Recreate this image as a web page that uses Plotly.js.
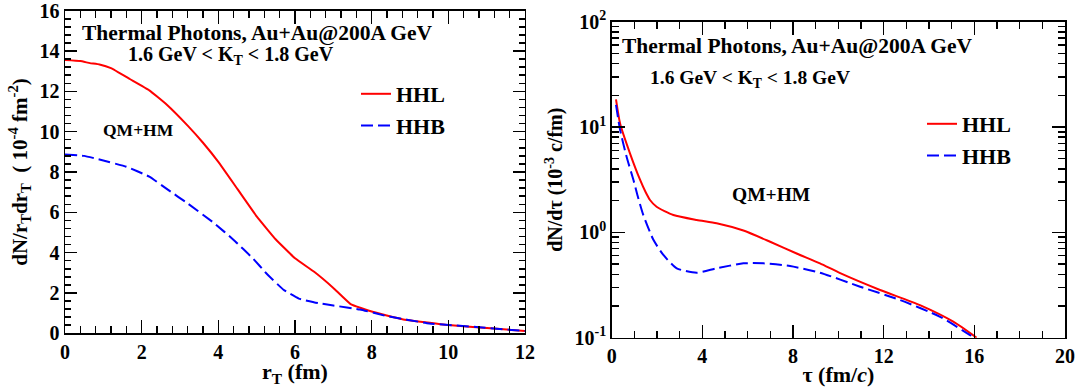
<!DOCTYPE html>
<html>
<head>
<meta charset="utf-8">
<script src="https://cdn.plot.ly/plotly-3.0.1.min.js"></script>
<style>html,body{margin:0;padding:0;background:#fff;}#plot{width:1075px;height:387px;}</style>
</head>
<body>
<div id="plot"></div>
<script>
// ---- Left panel: dN/(r_T dr_T) vs r_T ----
var rT_HHL = [0, 0.4, 0.65, 0.9, 1.2, 1.7, 2.2, 2.65, 3.2, 3.6, 4.0, 4.5, 5.0, 5.5, 6.0, 6.5, 7.0, 7.45, 8.0, 8.8, 10.0, 11.1, 12.0];
var dN_HHL = [13.55, 13.5, 13.4, 13.33, 13.15, 12.6, 12.05, 11.35, 10.3, 9.45, 8.5, 7.15, 5.8, 4.65, 3.72, 3.05, 2.25, 1.45, 1.08, 0.7, 0.41, 0.25, 0.11];
var rT_HHB = [0, 0.5, 0.9, 1.6, 2.2, 2.7, 3.2, 3.9, 4.4, 4.9, 5.25, 5.7, 6.1, 6.6, 7.0, 7.7, 8.4, 9.5, 10.8, 12.0];
var dN_HHB = [8.87, 8.8, 8.62, 8.26, 7.77, 7.1, 6.44, 5.45, 4.63, 3.72, 2.98, 2.16, 1.72, 1.5, 1.38, 1.18, 0.85, 0.49, 0.3, 0.11];

// ---- Right panel: dN/dtau vs tau ----
var tau_HHL = [0.19, 0.37, 0.81, 1.25, 1.5, 1.69, 1.98, 2.72, 3.75, 4.63, 5.81, 6.99, 8.16, 9.19, 10.08, 11.84, 13.6, 15.07, 16.1];
var dNdtau_HHL = [18.3, 10.8, 5.6, 3.16, 2.4, 2.03, 1.75, 1.46, 1.31, 1.22, 1.04, 0.815, 0.63, 0.508, 0.41, 0.284, 0.204, 0.142, 0.1];
var tau_HHB = [0.19, 0.37, 0.66, 0.96, 1.15, 1.4, 1.84, 2.28, 2.87, 3.75, 4.63, 5.81, 6.69, 7.87, 9.19, 10.96, 12.72, 14.49, 15.81, 16.0];
var dNdtau_HHB = [16.2, 9.4, 5.2, 3.14, 2.2, 1.45, 0.85, 0.61, 0.456, 0.414, 0.456, 0.508, 0.508, 0.479, 0.414, 0.305, 0.228, 0.158, 0.106, 0.1];

// tick labels
var logTickVals = [0.1, 1, 10, 100];
var logTickText = ['10<sup>-1</sup>', '10<sup>0</sup>', '10<sup>1</sup>', '10<sup>2</sup>'];
var seriesNames = ['HHL', 'HHB'];

var FONT = '"Liberation Serif", "Times New Roman", serif';
var minorLog = [];
for (var d = -1; d < 2; d++) { for (var k = 2; k <= 9; k++) { minorLog.push(k * Math.pow(10, d)); } }

var red = '#ff0000', blue = '#0000ff';
var traces = [
  {x: rT_HHL, y: dN_HHL, type: 'scatter', mode: 'lines', name: seriesNames[0], xaxis: 'x', yaxis: 'y', legend: 'legend',
   line: {color: red, width: 2, shape: 'spline', smoothing: 0.3}},
  {x: rT_HHB, y: dN_HHB, type: 'scatter', mode: 'lines', name: seriesNames[1], xaxis: 'x', yaxis: 'y', legend: 'legend',
   line: {color: blue, width: 2, dash: '12px,5px', shape: 'spline', smoothing: 0.3}},
  {x: tau_HHL, y: dNdtau_HHL, type: 'scatter', mode: 'lines', name: seriesNames[0], xaxis: 'x2', yaxis: 'y2', legend: 'legend2',
   line: {color: red, width: 2, shape: 'spline', smoothing: 0.6}},
  {x: tau_HHB, y: dNdtau_HHB, type: 'scatter', mode: 'lines', name: seriesNames[1], xaxis: 'x2', yaxis: 'y2', legend: 'legend2',
   line: {color: blue, width: 2, dash: '12px,5px', shape: 'spline', smoothing: 0.6}}
];

var tickFont = {family: FONT, size: 20, color: '#000', weight: 'bold'};
var titleFont = {family: FONT, size: 21, color: '#000', weight: 'bold'};
function axisBase() {
  return {showgrid: false, zeroline: false, showline: true, linecolor: '#000', linewidth: 1.5,
          mirror: 'allticks', ticks: 'inside', tickcolor: '#000', tickwidth: 1.5, tickfont: tickFont,
          ticklabeloverflow: 'allow'};
}
var xa = Object.assign(axisBase(), {domain: [0.06047, 0.48837], anchor: 'y', range: [0, 12], dtick: 2, tick0: 0, ticklen: 13,
  minor: {dtick: 0.4, tick0: 0, ticks: 'inside', ticklen: 7, tickcolor: '#000', tickwidth: 1.5},
  title: {text: 'r<sub>T</sub> (fm)', font: {family: FONT, size: 22, color: '#000', weight: 'bold'}, standoff: 0}});
var ya = Object.assign(axisBase(), {domain: [0.13876, 0.97235], anchor: 'x', range: [0, 16], dtick: 2, tick0: 0, ticklen: 12,
  minor: {dtick: 0.4, tick0: 0, ticks: 'inside', ticklen: 6, tickcolor: '#000', tickwidth: 1.5},
  title: {text: 'dN/r<sub>T</sub>dr<sub>T</sub>  ( 10<sup>-4</sup> fm<sup>-2</sup>)', font: titleFont, standoff: 6}});
var xa2 = Object.assign(axisBase(), {domain: [0.56902, 0.99070], anchor: 'y2', range: [0, 20], dtick: 4, tick0: 0, ticklen: 13,
  minor: {dtick: 1, tick0: 0, ticks: 'inside', ticklen: 7, tickcolor: '#000', tickwidth: 1.5},
  title: {text: '\u03c4 (fm/<i>c</i>)', font: {family: FONT, size: 22, color: '#000', weight: 'bold'}, standoff: 0}});
var ya2 = Object.assign(axisBase(), {domain: [0.12739, 0.94393], anchor: 'x2', type: 'log', range: [-1, 2],
  tickmode: 'array', tickvals: logTickVals, ticktext: logTickText, ticklen: 13,
  minor: {tickmode: 'array', tickvals: minorLog, ticks: 'inside', ticklen: 7, tickcolor: '#000', tickwidth: 1.5},
  title: {text: 'dN/d\u03c4 (10<sup>-3</sup> c/fm)', font: {family: FONT, size: 20, color: '#000', weight: 'bold'}, standoff: 6}});

function px(x) { return x / 1075; }
function py(y) { return 1 - y / 387; }
function ann(text, x, y, size) {
  return {text: text, xref: 'paper', yref: 'paper', x: px(x), y: py(y), xanchor: 'center', yanchor: 'middle',
          showarrow: false, font: {family: FONT, size: size, color: '#000', weight: 'bold'}};
}
var annotations = [
  ann('Thermal Photons, Au+Au@200A GeV', 256.5, 33, 21.5),
  ann('1.6 GeV &lt; K<sub>T</sub> &lt; 1.8 GeV', 230.5, 56, 20),
  ann('QM+HM', 138, 130, 17.5),
  ann('Thermal Photons, Au+Au@200A GeV', 796.5, 46, 21.5),
  ann('1.6 GeV &lt; K<sub>T</sub> &lt; 1.8 GeV', 750, 79, 19.5),
  ann('QM+HM', 771, 194, 19.5)
];

var legFont = {family: FONT, size: 22, color: '#000', weight: 'bold'};
var layout = {
  width: 1075, height: 387,
  margin: {l: 0, r: 0, t: 0, b: 0},
  paper_bgcolor: '#fff', plot_bgcolor: '#fff',
  font: {family: FONT, color: '#000'},
  xaxis: xa, yaxis: ya, xaxis2: xa2, yaxis2: ya2,
  showlegend: true,
  legend: {x: px(356), y: py(73), xanchor: 'left', yanchor: 'top', bgcolor: 'rgba(0,0,0,0)', borderwidth: 0,
           font: legFont, tracegroupgap: 0},
  legend2: {x: px(922), y: py(103), xanchor: 'left', yanchor: 'top', bgcolor: 'rgba(0,0,0,0)', borderwidth: 0,
            font: legFont, tracegroupgap: 0},
  annotations: annotations
};

Plotly.newPlot('plot', traces, layout, {displayModeBar: false, staticPlot: true});
</script>
</body>
</html>
